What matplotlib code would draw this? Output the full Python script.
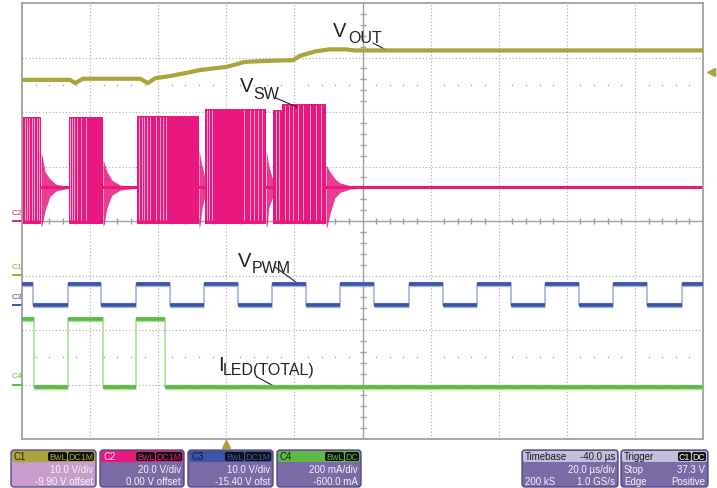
import matplotlib
matplotlib.use('Agg')
import matplotlib.pyplot as plt
import numpy as np
from matplotlib.patches import FancyBboxPatch
from matplotlib.transforms import blended_transform_factory

plt.rcParams['font.family'] = ['Liberation Sans', 'DejaVu Sans']

W, H = 717, 488

# channel setup, as shown in the readout boxes (per div, offset)
C1_SCALE, C1_OFFSET = 10.0, -9.90     # V_OUT, V
C2_SCALE, C2_OFFSET = 20.0, 0.0       # V_SW, V
C3_SCALE, C3_OFFSET = 10.0, -15.40    # V_PWM, V
C4_SCALE, C4_OFFSET = 200.0, -600.0   # I_LED, mA
TRIG_LEVEL = 37.3

# time in us relative to trigger (screen = -60..140, 20 us/div)
T0, T1 = -60.0, 140.0

vout_t = [-60.0, -45.9, -44.4, -42.1, -25.3, -23.0, -20.9, -16.5, -10.7, -7.7,
          0.2, 5.5, 12.8, 19.6, 21.6, 26.0, 30.4, 34.9, 37.8, 140.0]
vout_v = [35.8, 35.8, 35.2, 36.0, 36.0, 35.2, 36.1, 36.5, 37.2, 37.6,
          38.2, 39.1, 39.3, 39.4, 40.2, 41.0, 41.4, 41.4, 41.2, 41.2]

# switch node: bursts (start, end, top V), light stripes inside them
sw_bursts = [(-60.0, -54.4, 38.2), (-46.2, -36.2, 38.2), (-26.2, -8.0, 38.5),
             (-6.3, 11.7, 41.2), (13.7, 16.4, 40.7), (16.4, 29.3, 43.0)]
sw_stripes = [-59.1, -58.5, -57.8, -57.1, -56.5, -55.6, -54.9,
              -45.8, -45.4, -44.8, -43.9, -42.7, -41.2,
              -25.6, -24.9, -24.2, -23.3, -22.3, -20.6, -19.5, -18.6, -17.7,
              -5.8, -5.1, -4.2, 5.2, 7.0, 8.1, 9.3, 10.5,
              14.6, 15.5, 17.2, 18.4, 19.6, 21.1, 22.5, 24.6, 26.3, 27.8]
sw_low = -1.0
sw_vin = 12.3
# ringing envelopes after each burst
ring_t = [[-54.4, -54.1, -53.2, -51.8, -50.0, -46.5],
          [-36.2, -35.9, -35.0, -33.6, -31.2, -26.5],
          [-8.0, -7.7, -7.1, -6.3],
          [11.7, 12.0, 12.5, 13.7],
          [29.3, 29.6, 30.5, 31.9, 33.4, 36.3, 40.7]]
ring_hi = [[25.0, 24.0, 18.0, 15.5, 13.5, 12.6],
           [22.4, 21.5, 18.0, 15.0, 13.2, 12.5],
           [26.0, 24.0, 20.0, 16.0],
           [26.0, 24.0, 20.0, 15.0],
           [20.5, 20.0, 18.0, 15.5, 14.0, 13.0, 12.5]]
ring_lo = [[-2.2, -1.5, 4.0, 9.0, 11.0, 12.0],
           [-2.2, -1.0, 5.0, 9.5, 11.3, 12.1],
           [-2.6, -1.5, 5.0, 9.0],
           [-2.6, -1.5, 5.0, 9.0],
           [-2.6, -2.0, 3.0, 8.5, 10.5, 11.7, 12.1]]

pwm_edges = [-56.8, -46.5, -36.8, -26.5, -16.5, -6.5, 3.4, 13.4, 23.4, 33.4,
             43.4, 53.7, 63.6, 73.6, 83.6, 93.6, 103.6, 113.6, 123.6, 133.9]
pwm_hi, pwm_lo = 3.9, 0.0

led_edges = [-56.5, -46.5, -36.2, -26.5, -18.0]
led_hi, led_lo = 240.0, -8.0

OLIVE = '#aaa53a'
PINK = '#e8187f'
PINK_L = '#f6a6cc'
BLUE = '#3a55a3'
BLUE_L = '#a6b3da'
GREEN = '#5cb947'
GREEN_L = '#aadd9a'
GRID = '#a8a8a8'


def to_div(v, scale, offset):
    return (np.asarray(v, dtype=float) + offset) / scale


def square(edges, hi, lo):
    ts, vs = [T0], [hi]
    level = hi
    for e in edges:
        ts += [e, e]
        nxt = lo if level == hi else hi
        vs += [level, nxt]
        level = nxt
    ts.append(T1)
    vs.append(level)
    return np.array(ts), np.array(vs)


fig = plt.figure(figsize=(W / 100, H / 100), dpi=100)
ax = fig.add_axes([22 / W, 49 / H, 681 / W, 436 / H])
ax.set_xlim(T0, T1)
ax.set_ylim(-4, 4)
ax.set_xticks([])
ax.set_yticks([])
for s in ax.spines.values():
    s.set_color('#a0a0a0')
    s.set_linewidth(1.3)

# graticule
for x in np.arange(T0 + 20, T1, 20):
    if x != 40:
        ax.axvline(x, color=GRID, lw=0.8, ls=(0, (1, 2)), zorder=0)
for y in range(-3, 4):
    if y != 0:
        ax.axhline(y, color=GRID, lw=0.8, ls=(0, (1, 2)), zorder=0)
ax.axhline(0, color='#a0a0a0', lw=1.0, zorder=0)
ax.axvline(40, color='#a0a0a0', lw=1.0, zorder=0)
minor_x = [x for x in np.arange(T0 + 4, T1, 4) if abs((x - T0) % 20) > 1e-6]
minor_y = [y for y in np.arange(-3.8, 4, 0.2) if abs(round(y, 3) % 1) > 1e-6]
ax.plot(minor_x, [0] * len(minor_x), ls='none', marker='|', ms=5, color='#a0a0a0', zorder=0)
ax.plot([40] * len(minor_y), minor_y, ls='none', marker='_', ms=5, color='#a0a0a0', zorder=0)
for yr in (2.5, -2.5):
    ax.plot(minor_x, [yr] * len(minor_x), ls='none', marker='|', ms=2, color='#b8b8b8', zorder=0)

# V_SW
ax.axhline(to_div(sw_vin, C2_SCALE, C2_OFFSET), color=PINK, lw=2.2, zorder=1)
for t, hi, lo in zip(ring_t, ring_hi, ring_lo):
    ax.fill_between(t, to_div(lo, C2_SCALE, C2_OFFSET), to_div(hi, C2_SCALE, C2_OFFSET),
                    color=PINK, alpha=0.85, lw=0, zorder=2)
for a, b, top in sw_bursts:
    ax.fill_between([a, b], to_div(sw_low, C2_SCALE, C2_OFFSET), to_div(top, C2_SCALE, C2_OFFSET),
                    color=PINK, lw=0, zorder=2)
for st in sw_stripes:
    top = [b[2] for b in sw_bursts if b[0] <= st <= b[1]][0]
    ax.vlines(st, to_div(sw_low + 1.5, C2_SCALE, C2_OFFSET), to_div(top - 0.5, C2_SCALE, C2_OFFSET),
              color=PINK_L, lw=0.7, zorder=3)

# V_OUT
ax.plot(vout_t, to_div(vout_v, C1_SCALE, C1_OFFSET), color=OLIVE, lw=3.0, zorder=4)

# V_PWM and I_LED square waves
for edges, hi, lo, sc, off, dark, light in [
        (pwm_edges, pwm_hi, pwm_lo, C3_SCALE, C3_OFFSET, BLUE, BLUE_L),
        (led_edges, led_hi, led_lo, C4_SCALE, C4_OFFSET, GREEN, GREEN_L)]:
    ts, vs = square(edges, hi, lo)
    ax.plot(ts, to_div(vs, sc, off), color=light, lw=1.2, zorder=4)
    for i in range(0, len(ts), 2):
        ax.hlines(to_div(vs[i], sc, off), ts[i], ts[i + 1], color=light, lw=3.8, zorder=4)
        ax.hlines(to_div(vs[i], sc, off), ts[i], ts[i + 1], color=dark, lw=2.6, zorder=5)

# trigger markers
ax.plot([1.012], [to_div(TRIG_LEVEL, C1_SCALE, C1_OFFSET)], marker='<', ms=6, color=OLIVE,
        transform=blended_transform_factory(ax.transAxes, ax.transData), clip_on=False)
ax.plot([0], [-4.09], marker='^', ms=5.5, color=OLIVE, clip_on=False)

# overlay in pixel units for labels and readouts
ov = fig.add_axes([0, 0, 1, 1], zorder=5)
ov.set_xlim(0, W)
ov.set_ylim(H, 0)
ov.axis('off')

side = blended_transform_factory(ov.transData, ax.transData)
for name, sc, off, col in [('C2', C2_SCALE, C2_OFFSET, PINK), ('C1', C1_SCALE, C1_OFFSET, OLIVE),
                           ('C3', C3_SCALE, C3_OFFSET, BLUE), ('C4', C4_SCALE, C4_OFFSET, GREEN)]:
    g = float(to_div(0, sc, off))
    ax.plot([13, 22], [g, g], color=col, lw=1.4, transform=side, clip_on=False)
    ax.annotate(name, (12, g), xycoords=side, xytext=(0, 3), textcoords='offset points',
                fontsize=6, color=col, va='bottom', ha='left', annotation_clip=False)

# trace names with leader lines
names = [('V', 'OUT', (333, 37), (348, 43), (373, 43), (47.2, to_div(41.2, C1_SCALE, C1_OFFSET))),
         ('V', 'SW', (240, 92), (253, 99), (276, 98), (20.8, to_div(41.8, C2_SCALE, C2_OFFSET))),
         ('V', 'PWM', (238, 267), (252, 273), (275, 267), (21.1, to_div(pwm_hi, C3_SCALE, C3_OFFSET))),
         ('I', 'LED(TOTAL)', (218, 371), (223, 375), (257, 377), (14.3, to_div(led_lo, C4_SCALE, C4_OFFSET)))]
for big, sub, pb, ps, start, end in names:
    ov.text(*pb, big, fontsize=14.5, color='#222222', va='baseline', ha='left')
    ov.text(*ps, sub, fontsize=11.5, color='#222222', va='baseline', ha='left')
    ax.annotate('', xy=end, xycoords='data', xytext=start, textcoords=ov.transData,
                arrowprops=dict(arrowstyle='-', color='#222222', lw=0.8, shrinkA=0, shrinkB=0))

# readout boxes
BODY = '#7a6ba6'
EDGE = '#4d3f7d'
Y0, Y1, YH = 450, 487, 462


def box(x0, x1, head, body=BODY):
    ov.add_patch(FancyBboxPatch((x0, Y0), x1 - x0, Y1 - Y0, boxstyle='round,pad=0,rounding_size=3',
                                fc=body, ec=EDGE, lw=0.9))
    ov.add_patch(FancyBboxPatch((x0 + 1, Y0 + 1), x1 - x0 - 2, YH - Y0 - 1,
                                boxstyle='round,pad=0,rounding_size=2', fc=head, ec='none'))


def tag(xr, label, w, fg, bg='#111111'):
    ov.add_patch(FancyBboxPatch((xr - w, Y0 + 2), w, YH - Y0 - 3, boxstyle='round,pad=0,rounding_size=2',
                                fc=bg, ec='none'))
    ov.text(xr - w / 2, YH - 2.5, label, fontsize=6.3, color=fg, ha='center', va='baseline')


def txt(x, y, s, ha='right', color='#f4f4f8'):
    ov.text(x, y, s, fontsize=7, color=color, ha=ha, va='baseline')


chans = [(11, 96, OLIVE, '#c89dcc', 'C1', '#222222', ['BwL', 'DC1M'], '10.0 V/div', '-9.90 V offset'),
         (100, 184, PINK, BODY, 'C2', '#ffe0f0', ['BwL', 'DC1M'], '20.0 V/div', '0.00 V offset'),
         (188, 273, BLUE, BODY, 'C3', '#10183a', ['BwL', 'DC1M'], '10.0 V/div', '-15.40 V ofst'),
         (277, 361, GREEN, BODY, 'C4', '#112211', ['BwL', 'DC'], '200 mA/div', '-600.0 mA')]
widths = {'BwL': 19, 'DC1M': 26, 'DC': 14}
for x0, x1, head, body, name, ncol, tags, l2, l3 in chans:
    box(x0, x1, head, body)
    txt(x0 + 3, YH - 2.5, name, ha='left', color=ncol)
    xr = x1 - 2
    for tg in reversed(tags):
        tag(xr, tg, widths[tg], head)
        xr -= widths[tg] + 1
    txt(x1 - 3, 473, l2)
    txt(x1 - 3, 485, l3)

HEAD_L = '#c4bfdc'
box(522, 618, HEAD_L)
txt(525, YH - 2.5, 'Timebase', ha='left', color='#1a1a1a')
txt(615, YH - 2.5, '-40.0 µs', color='#1a1a1a')
txt(615, 473, '20.0 µs/div')
txt(525, 485, '200 kS', ha='left')
txt(615, 485, '1.0 GS/s')

box(621, 708, HEAD_L)
txt(624, YH - 2.5, 'Trigger', ha='left', color='#1a1a1a')
tag(706, 'DC', 14, '#ffffff')
tag(691, 'C1', 13, '#ffffff')
txt(624, 473, 'Stop', ha='left')
txt(705, 473, '37.3 V')
txt(624, 485, 'Edge', ha='left')
txt(705, 485, 'Positive')

fig.savefig('out.png', dpi=100, facecolor='white')
